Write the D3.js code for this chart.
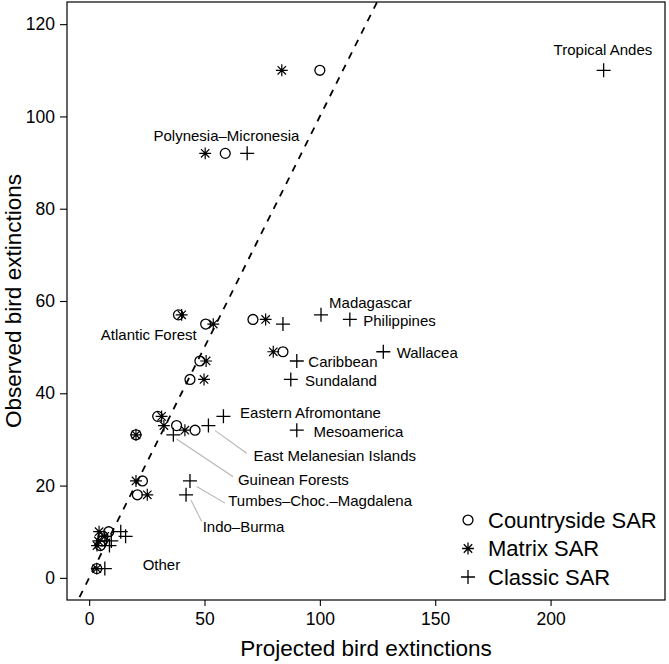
<!DOCTYPE html>
<html>
<head>
<meta charset="utf-8">
<script src="https://cdn.jsdelivr.net/npm/d3@7"></script>
<style>
  html, body { margin: 0; padding: 0; background: #fff; }
  svg { display: block; font-family: "Liberation Sans", Arial, Helvetica, sans-serif; }
</style>
</head>
<body>
<svg id="chart" width="669" height="664"></svg>
<script>
// ---------------- DATA ----------------
const regions = [
  "Tropical Andes", "Polynesia–Micronesia", "Madagascar", "Philippines", "Atlantic Forest",
  "Wallacea", "Caribbean", "Sundaland", "Eastern Afromontane", "East Melanesian Islands",
  "Mesoamerica", "Guinean Forests", "Tumbes–Choc.–Magdalena", "Indo–Burma",
  "Other", "Other", "Other", "Other", "Other"
];
const observed    = [110, 92, 57, 56, 55, 49, 47, 43, 35, 33, 32, 31, 21, 18, 10, 9, 7, 8, 2];
const countryside = [100, 59, 38.7, 71, 50.5, 84, 48, 43.7, 29.7, 37.9, 45.9, 20.3, 23.1, 20.9, 8.5, 6.0, 4.8, 5.5, 3.3];
const matrix      = [83.5, 50.3, 40.1, 76.5, 53.8, 79.8, 50.7, 49.8, 31.4, 32.4, 41.5, 20.3, 20.3, 25.2, 4.3, 6.8, 3.4, 4.0, 3.3];
const classic     = [223, 68.5, 100.5, 113, 84, 127.5, 90, 87.4, 58.2, 51.7, 90, 36.5, 43.7, 42, 13.7, 15.8, 8.8, 9.6, 6.8];

const xTicks = [0, 50, 100, 150, 200];
const yTicks = [0, 20, 40, 60, 80, 100, 120];
const xLim = [0, 240];
const yLim = [0, 120];

const seriesNames = ["Countryside SAR", "Matrix SAR", "Classic SAR"];

// Text annotations (label text, anchor in data units, alignment)
const labelText = ["Tropical Andes", "Polynesia–Micronesia", "Madagascar", "Philippines", "Atlantic Forest",
  "Wallacea", "Caribbean", "Sundaland", "Eastern Afromontane", "Mesoamerica",
  "East Melanesian Islands", "Guinean Forests", "Tumbes–Choc.–Magdalena", "Indo–Burma", "Other"];
const labelX = [222.7, 59.5, 104.0, 118.8, 46.6, 133.3, 95.0, 93.6, 65.4, 97.2, 71.2, 64.5, 60.3, 49.2, 23.2];
const labelY = [114.4, 95.9, 59.7, 55.7, 52.7, 48.7, 46.8, 42.7, 35.7, 31.6, 26.5, 21.3, 16.8, 11.0, 2.9];
const labelAnchor = ["middle", "middle", "start", "start", "end", "start", "start", "start", "start", "start",
  "start", "start", "start", "start", "start"];
// leader lines [x1, y1, x2, y2] in data units
const leaders = [
  [54.6, 31.9, 68.3, 27.0],
  [37.9, 30.1, 62.4, 21.9],
  [46.6, 19.8, 58.9, 16.2],
  [44.1, 16.9, 48.8, 12.2]
];

// ---------------- LAYOUT ----------------
const svg = d3.select("#chart");
const box = { left: 67, right: 665, top: 2, bottom: 600 };
const padX = (xLim[1] - xLim[0]) * 0.04, padY = (yLim[1] - yLim[0]) * 0.04;
const x = d3.scaleLinear().domain([xLim[0] - padX, xLim[1] + padX]).range([box.left, box.right]);
const y = d3.scaleLinear().domain([yLim[0] - padY, yLim[1] + padY]).range([box.bottom, box.top]);

svg.append("defs").append("clipPath").attr("id", "clip")
  .append("rect").attr("x", box.left).attr("y", box.top)
  .attr("width", box.right - box.left).attr("height", box.bottom - box.top);

// 1:1 dashed line
const dom = x.domain();
svg.append("line")
  .attr("clip-path", "url(#clip)")
  .attr("x1", x(dom[0])).attr("y1", y(dom[0]))
  .attr("x2", x(dom[1])).attr("y2", y(dom[1]))
  .attr("stroke", "#000").attr("stroke-width", 1.8)
  .attr("stroke-dasharray", "7,7");

// axes
const xAxis = svg.append("g").attr("transform", `translate(0,${box.bottom})`)
  .call(d3.axisBottom(x).tickValues(xTicks).tickSize(6).tickSizeOuter(0).tickPadding(7).tickFormat(d3.format("d")));
const yAxis = svg.append("g").attr("transform", `translate(${box.left},0)`)
  .call(d3.axisLeft(y).tickValues(yTicks).tickSize(7).tickSizeOuter(0).tickPadding(5).tickFormat(d3.format("d")));
[xAxis, yAxis].forEach(g => {
  g.select(".domain").remove();
  g.selectAll(".tick line").attr("stroke", "#000").attr("stroke-width", 1.1);
  g.selectAll(".tick text").attr("fill", "#000").style("font-size", "17.5px")
    .style("font-family", '"Liberation Sans", Arial, Helvetica, sans-serif');
});

// box
svg.append("rect")
  .attr("x", box.left).attr("y", box.top)
  .attr("width", box.right - box.left).attr("height", box.bottom - box.top)
  .attr("fill", "none").attr("stroke", "#000").attr("stroke-width", 1.2);

// axis titles
svg.append("text").attr("x", (box.left + box.right) / 2).attr("y", 656)
  .attr("text-anchor", "middle").style("font-size", "22.5px").text("Projected bird extinctions");
svg.append("text").attr("transform", `translate(21,${(box.top + box.bottom) / 2}) rotate(-90)`)
  .attr("text-anchor", "middle").style("font-size", "22.5px").text("Observed bird extinctions");

// leader lines
svg.append("g").selectAll("line").data(leaders).join("line")
  .attr("x1", d => x(d[0])).attr("y1", d => y(d[1]))
  .attr("x2", d => x(d[2])).attr("y2", d => y(d[3]))
  .attr("stroke", "#b5b5b5").attr("stroke-width", 1.1);

// symbols
const R = 4.95;
function symPath(type, cx, cy) {
  if (type === 0) {
    return `M${cx + R},${cy}A${R},${R} 0 1,1 ${cx - R},${cy}A${R},${R} 0 1,1 ${cx + R},${cy}Z`;
  } else if (type === 1) {
    const r = R * 1.2, d = r * Math.SQRT1_2;
    return `M${cx - r},${cy}L${cx + r},${cy}M${cx},${cy - r}L${cx},${cy + r}` +
           `M${cx - d},${cy - d}L${cx + d},${cy + d}M${cx - d},${cy + d}L${cx + d},${cy - d}`;
  } else {
    const r = R * Math.SQRT2;
    return `M${cx - r},${cy}L${cx + r},${cy}M${cx},${cy - r}L${cx},${cy + r}`;
  }
}
const seriesVals = [countryside, matrix, classic];
const pts = [];
seriesVals.forEach((vals, s) => vals.forEach((v, i) => pts.push({ s, px: v, py: observed[i] })));
svg.append("g").selectAll("path").data(pts).join("path")
  .attr("d", d => symPath(d.s, x(d.px), y(d.py)))
  .attr("fill", "none").attr("stroke", "#000").attr("stroke-width", d => d.s === 1 ? 1.2 : 1.3);

// labels
svg.append("g").selectAll("text").data(labelText).join("text")
  .attr("x", (d, i) => x(labelX[i])).attr("y", (d, i) => y(labelY[i]))
  .attr("dy", "0.35em")
  .attr("text-anchor", (d, i) => labelAnchor[i])
  .style("font-size", "15px").attr("fill", "#000")
  .text(d => d);

// legend
const leg = svg.append("g");
seriesNames.forEach((name, i) => {
  const cy = 520 + i * 28.5;
  leg.append("path").attr("d", symPath(i, 468, cy))
    .attr("fill", "none").attr("stroke", "#000").attr("stroke-width", 1.3);
  leg.append("text").attr("x", 488).attr("y", cy).attr("dy", "0.35em")
    .style("font-size", "22px").text(name);
});
</script>
</body>
</html>
